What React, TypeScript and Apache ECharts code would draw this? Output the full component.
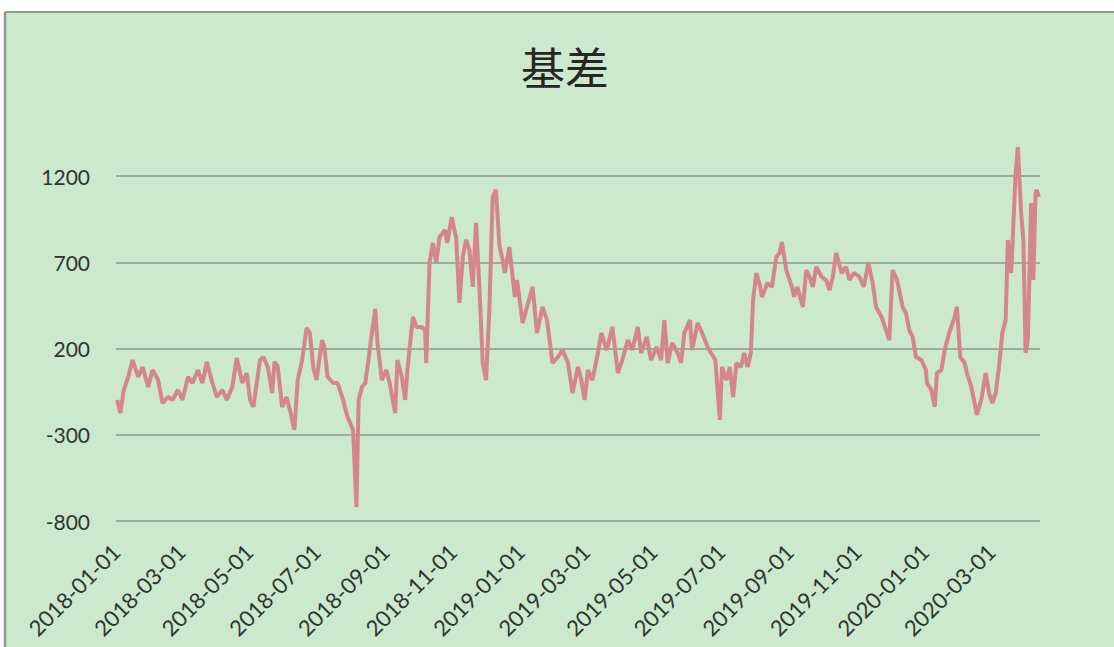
import React, { useEffect, useRef } from "react";
import * as echarts from "echarts";

// Daily basis readings (date, value)
const dates: string[] = [
  "2018-01-02", "2018-01-05", "2018-01-08", "2018-01-12", "2018-01-16", "2018-01-21", "2018-01-25", "2018-01-30",
  "2018-02-03", "2018-02-08", "2018-02-12", "2018-02-17", "2018-02-21", "2018-02-26", "2018-03-02", "2018-03-07",
  "2018-03-11", "2018-03-16", "2018-03-20", "2018-03-24", "2018-03-29", "2018-04-02", "2018-04-07", "2018-04-11",
  "2018-04-16", "2018-04-20", "2018-04-25", "2018-04-29", "2018-05-02", "2018-05-05", "2018-05-08", "2018-05-11",
  "2018-05-14", "2018-05-18", "2018-05-22", "2018-05-24", "2018-05-27", "2018-05-31", "2018-06-04", "2018-06-07",
  "2018-06-11", "2018-06-14", "2018-06-18", "2018-06-22", "2018-06-25", "2018-06-28", "2018-07-01", "2018-07-06",
  "2018-07-08", "2018-07-11", "2018-07-16", "2018-07-20", "2018-07-25", "2018-07-29", "2018-08-03", "2018-08-06",
  "2018-08-08", "2018-08-11", "2018-08-14", "2018-08-16", "2018-08-20", "2018-08-23", "2018-08-25", "2018-08-29",
  "2018-09-02", "2018-09-05", "2018-09-10", "2018-09-12", "2018-09-16", "2018-09-19", "2018-09-21", "2018-09-26",
  "2018-09-29", "2018-10-04", "2018-10-07", "2018-10-08", "2018-10-11", "2018-10-14", "2018-10-17", "2018-10-20",
  "2018-10-25", "2018-10-27", "2018-10-31", "2018-11-03", "2018-11-04", "2018-11-07", "2018-11-10", "2018-11-13",
  "2018-11-16", "2018-11-19", "2018-11-22", "2018-11-25", "2018-11-28", "2018-12-01", "2018-12-04", "2018-12-07",
  "2018-12-10", "2018-12-13", "2018-12-16", "2018-12-18", "2018-12-22", "2018-12-27", "2018-12-29", "2019-01-03",
  "2019-01-07", "2019-01-12", "2019-01-16", "2019-01-21", "2019-01-25", "2019-01-30", "2019-02-04", "2019-02-08",
  "2019-02-13", "2019-02-17", "2019-02-22", "2019-02-25", "2019-02-28", "2019-03-03", "2019-03-07", "2019-03-12",
  "2019-03-15", "2019-03-20", "2019-03-25", "2019-03-30", "2019-04-03", "2019-04-08", "2019-04-12", "2019-04-17",
  "2019-04-20", "2019-04-25", "2019-04-29", "2019-05-04", "2019-05-08", "2019-05-11", "2019-05-14", "2019-05-18",
  "2019-05-23", "2019-05-26", "2019-05-29", "2019-06-03", "2019-06-05", "2019-06-10", "2019-06-14", "2019-06-19",
  "2019-06-22", "2019-06-26", "2019-06-30", "2019-07-02", "2019-07-06", "2019-07-09", "2019-07-12", "2019-07-15",
  "2019-07-19", "2019-07-22", "2019-07-25", "2019-07-28", "2019-07-30", "2019-08-02", "2019-08-05", "2019-08-07",
  "2019-08-12", "2019-08-16", "2019-08-20", "2019-08-23", "2019-08-25", "2019-08-29", "2019-09-03", "2019-09-05",
  "2019-09-08", "2019-09-13", "2019-09-16", "2019-09-19", "2019-09-22", "2019-09-25", "2019-09-30", "2019-10-04",
  "2019-10-07", "2019-10-10", "2019-10-13", "2019-10-18", "2019-10-22", "2019-10-25", "2019-10-29", "2019-11-03",
  "2019-11-07", "2019-11-11", "2019-11-15", "2019-11-18", "2019-11-23", "2019-11-27", "2019-11-30", "2019-12-03",
  "2019-12-07", "2019-12-12", "2019-12-15", "2019-12-18", "2019-12-21", "2019-12-24", "2019-12-29", "2020-01-02",
  "2020-01-03", "2020-01-07", "2020-01-10", "2020-01-12", "2020-01-16", "2020-01-19", "2020-01-23", "2020-01-28",
  "2020-01-30", "2020-02-02", "2020-02-06", "2020-02-08", "2020-02-12", "2020-02-15", "2020-02-17", "2020-02-21",
  "2020-02-25", "2020-02-28", "2020-03-02", "2020-03-05", "2020-03-08", "2020-03-11", "2020-03-14", "2020-03-16",
  "2020-03-19", "2020-03-21", "2020-03-23", "2020-03-25", "2020-03-28", "2020-03-30", "2020-04-01", "2020-04-03",
  "2020-04-06", "2020-04-08", "2020-04-10", "2020-04-11", "2020-04-13",
];

const basis: number[] = [
  -98, -174, -41, 35, 133, 35, 93, -23,
  75, 17, -116, -81, -98, -41, -98, 35,
  0, 75, 0, 122, 0, -81, -41, -98,
  -23, 145, 0, 58, -98, -139, 0, 133,
  151, 93, -58, 122, 93, -139, -81, -156,
  -272, 17, 133, 319, 290, 93, 17, 249,
  209, 35, 0, 0, -98, -197, -272, -719,
  -98, -23, 0, 93, 290, 430, 232, 17,
  75, 0, -174, 133, 35, -98, 75, 383,
  325, 325, 307, 116, 696, 812, 696, 846,
  887, 812, 962, 870, 846, 464, 730, 829,
  771, 557, 928, 557, 116, 17, 423, 1078,
  1119, 800, 713, 638, 788, 499, 597, 348,
  441, 557, 290, 441, 365, 116, 151, 191,
  116, -58, 93, 17, -98, 75, 17, 174,
  290, 191, 325, 58, 133, 249, 191, 325,
  174, 267, 133, 209, 133, 365, 116, 232,
  174, 116, 290, 365, 191, 348, 290, 209,
  174, 133, -214, 93, 17, 93, -81, 116,
  93, 174, 93, 174, 481, 638, 570, 499,
  580, 557, 730, 754, 817, 655, 557, 499,
  557, 441, 655, 615, 557, 673, 615, 597,
  539, 615, 754, 638, 673, 597, 638, 615,
  557, 696, 580, 441, 383, 307, 249, 655,
  597, 441, 406, 307, 267, 151, 133, 75,
  0, -41, -139, 58, 75, 191, 290, 383,
  441, 151, 116, 58, -23, -116, -185, -98,
  58, -58, -116, -58, 93, 290, 365, 829,
  638, 928, 1217, 1368, 986, 829, 174, 249,
  1043, 597, 1101, 1119, 1078,
];

// Value axis ticks
const yTicks: number[] = [-800, -300, 200, 700, 1200];

const TITLE = "基差";

export default function App() {
  const ref = useRef<HTMLDivElement>(null);

  useEffect(() => {
    if (!ref.current) return;
    const chart = echarts.init(ref.current, null, { renderer: "svg" });
    const step = yTicks[1] - yTicks[0];
    const seriesData = dates.map((d, i) => [d, basis[i]]);
    const dayMs = 24 * 3600 * 1000;

    chart.setOption({
      animation: false,
      backgroundColor: "#ffffff",
      graphic: [
        {
          type: "rect",
          shape: { x: 5, y: 12, width: 1109, height: 635 },
          style: { fill: "#cce8cd" },
          silent: true,
          z: -10,
        },
        {
          type: "line",
          shape: { x1: 5, y1: 12, x2: 1114, y2: 12 },
          style: { stroke: "#8e9a8e", lineWidth: 2 },
          silent: true,
        },
        {
          type: "line",
          shape: { x1: 5, y1: 12, x2: 5, y2: 647 },
          style: { stroke: "#8e9a8e", lineWidth: 2.5 },
          silent: true,
        },
        {
          type: "text",
          x: 565,
          y: 66,
          style: {
            text: TITLE,
            fill: "#262626",
            fontSize: 44,
            fontFamily: "Noto Sans CJK SC",
            fontWeight: "normal",
            align: "center",
            verticalAlign: "middle",
          },
          silent: true,
        },
      ],
      grid: { left: 116, right: 74, top: 89.75, bottom: 126, containLabel: false },
      xAxis: {
        type: "time",
        min: "2018-01-01",
        max: "2020-04-14",
        splitNumber: 11,
        minInterval: 70 * dayMs,
        maxInterval: 70 * dayMs,
        axisLine: { show: false },
        axisTick: { show: false },
        splitLine: { show: false },
        axisLabel: {
          formatter: "{yyyy}-{MM}-{dd}",
          rotate: 45,
          margin: 27,
          fontSize: 22,
          fontFamily: "Lato",
          color: "#2e352e",
          showMaxLabel: false,
          hideOverlap: false,
        },
      },
      yAxis: {
        type: "value",
        min: yTicks[0],
        max: yTicks[yTicks.length - 1] + step,
        interval: step,
        axisLine: { show: false },
        axisTick: { show: false },
        axisLabel: {
          showMaxLabel: false,
          formatter: (v: number) => String(v),
          margin: 26,
          fontSize: 21,
          fontFamily: "Lato",
          color: "#2e352e",
        },
        splitLine: {
          show: true,
          showMaxLine: false,
          lineStyle: { color: "#8c9a8c", width: 1.5 },
        },
      },
      series: [
        {
          type: "line",
          data: seriesData,
          showSymbol: false,
          symbol: "none",
          lineStyle: { color: "#d4868b", width: 4 },
        },
      ],
    });

    return () => chart.dispose();
  }, []);

  return (
    <div
      style={{ position: "fixed", left: 0, top: 0, width: 1114, height: 647, background: "#fff" }}
    >
      <div ref={ref} style={{ width: 1114, height: 647 }} />
    </div>
  );
}
